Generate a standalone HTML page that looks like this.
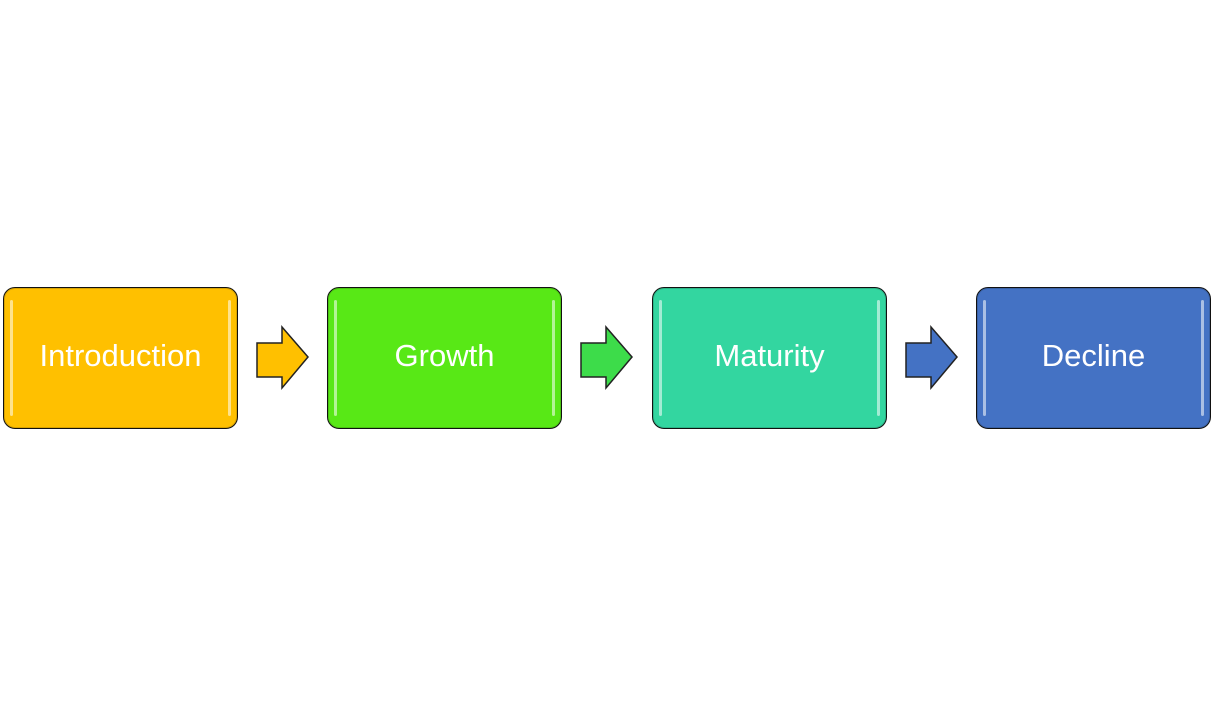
<!DOCTYPE html>
<html><head><style>
body{margin:0;width:1213px;height:716px;background:#fff;position:relative;overflow:hidden;font-family:"Liberation Sans",sans-serif}
.b{position:absolute;top:287px;width:233px;height:140px;border:1.5px solid #111;border-radius:12px;color:#fff;font-size:31px;display:flex;align-items:center;justify-content:center;box-shadow:inset 0 0 0 1px rgba(0,0,0,.15)}
.b span{position:relative;top:-2px}
.b:before,.b:after{content:"";position:absolute;top:12px;bottom:12px;width:3px;border-radius:2px;background:rgba(255,255,255,.55)}
.b:before{left:6px}.b:after{right:6px}
svg{position:absolute;top:325px}
</style></head><body>
<div class="b" style="left:3px;background:#FFC000"><span>Introduction</span></div>
<div class="b" style="left:327px;background:#58E816"><span>Growth</span></div>
<div class="b" style="left:652px;background:#33D6A0"><span>Maturity</span></div>
<div class="b" style="left:976px;background:#4472C4"><span>Decline</span></div>
<svg style="left:256px" width="56" height="66"><polygon points="1,18 26,18 26,2 52,32 26,63 26,52 1,52" fill="#FFC000" stroke="#222" stroke-width="1.5"/></svg>
<svg style="left:580px" width="56" height="66"><polygon points="1,18 26,18 26,2 52,32 26,63 26,52 1,52" fill="#3DDC4A" stroke="#222" stroke-width="1.5"/></svg>
<svg style="left:905px" width="56" height="66"><polygon points="1,18 26,18 26,2 52,32 26,63 26,52 1,52" fill="#4472C4" stroke="#222" stroke-width="1.5"/></svg>
</body></html>
